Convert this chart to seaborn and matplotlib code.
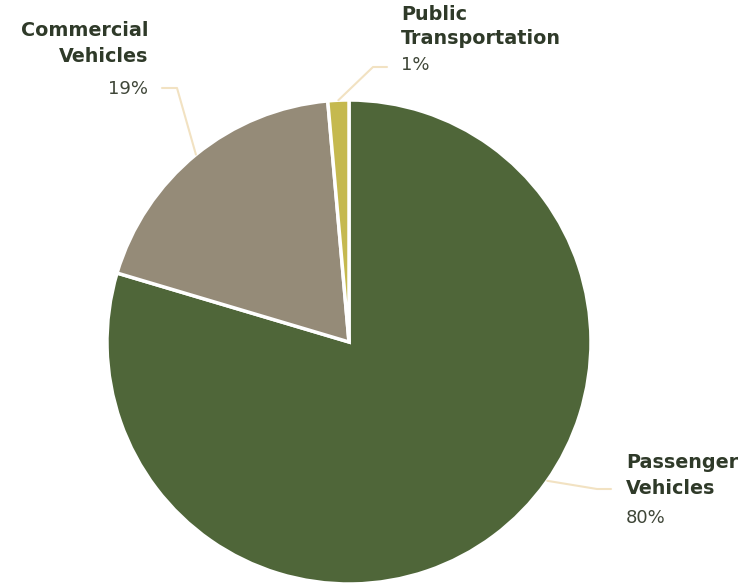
import numpy as np
import matplotlib
matplotlib.use("Agg")
import matplotlib.pyplot as plt
import seaborn as sns

categories = ["Passenger\nVehicles", "Commercial\nVehicles", "Public\nTransportation"]
values = [79.6, 19.0, 1.4]
pct_labels = ["80%", "19%", "1%"]
colors = ["#4f6639", "#958b78", "#c5b94f"]

sns.set_theme(style="white")
plt.rcParams['font.family'] = ['DejaVu Sans']

W, H = 754, 583
fig = plt.figure(figsize=(W / 100, H / 100), dpi=100)
ax = fig.add_axes([0, 0, 1, 1])

cx, cy, R = 349, H - 342, 242
wedges, _ = ax.pie(values, colors=colors, startangle=90, counterclock=False,
                   center=(cx, cy), radius=R,
                   wedgeprops=dict(edgecolor="white", linewidth=2.5))
ax.set_xlim(0, W)
ax.set_ylim(0, H)
ax.set_aspect('equal')
ax.axis('off')

line_c = "#f2e2c2"
title_c = "#2f3a29"
pct_c = "#3f4638"

def edge_pt(w, frac=0.5, ang=None):
    if ang is None:
        ang = w.theta1 + (w.theta2 - w.theta1) * frac
    a = np.deg2rad(ang)
    return cx + R * np.cos(a), cy + R * np.sin(a)

def py(y):
    return H - y

# Passenger
x0, y0 = edge_pt(wedges[0], ang=-35)
ax.plot([x0, 597, 611], [y0, py(489), py(489)], color=line_c, lw=1.5, solid_capstyle='round')
# Commercial
x1, y1 = edge_pt(wedges[1])
ax.plot([x1, 177, 162], [y1, py(88), py(88)], color=line_c, lw=1.5, solid_capstyle='round')
# Public
x2, y2 = edge_pt(wedges[2])
ax.plot([x2, 373, 387], [y2, py(67), py(67)], color=line_c, lw=1.5, solid_capstyle='round')

fs_t = 13.8
fs_p = 13.0
def label(x, ys, cat, pct, ha):
    l1, l2 = cat.split("\n")
    ax.text(x, py(ys[0]), l1, ha=ha, va='center', fontsize=fs_t, fontweight='bold', color=title_c)
    ax.text(x, py(ys[1]), l2, ha=ha, va='center', fontsize=fs_t, fontweight='bold', color=title_c)
    ax.text(x, py(ys[2]), pct, ha=ha, va='center', fontsize=fs_p, color=pct_c)

label(626, (462, 489, 518), categories[0], pct_labels[0], 'left')
label(148, (31, 57, 89), categories[1], pct_labels[1], 'right')
label(401, (14, 39, 65), categories[2], pct_labels[2], 'left')

fig.savefig("out.png", dpi=100, facecolor="white")
